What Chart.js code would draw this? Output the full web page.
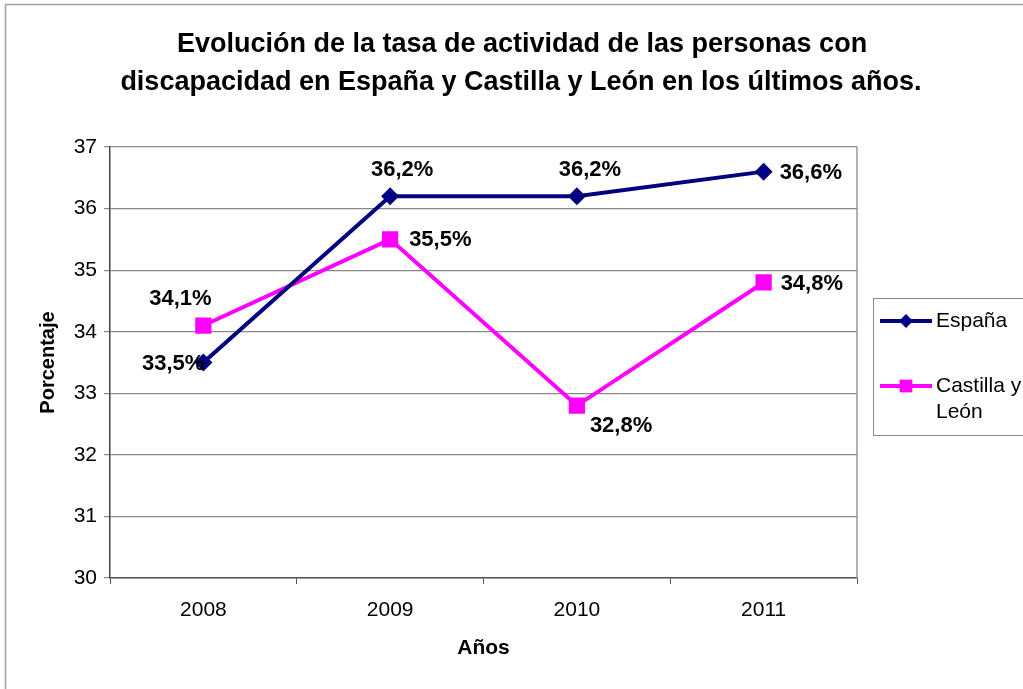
<!DOCTYPE html>
<html>
<head>
<meta charset="utf-8">
<script src="https://cdn.jsdelivr.net/npm/chart.js"></script>
<style>
  body { margin: 0; background: #fff; }
  #wrap { width: 1023px; height: 689px; position: relative; }
</style>
</head>
<body>
<div id="wrap"><canvas id="myChart" width="1023" height="689"></canvas></div>
<script>
const years = ['2008', '2009', '2010', '2011'];
const espana = [33.5, 36.2, 36.2, 36.6];
const castilla = [34.1, 35.5, 32.8, 34.8];
const titleLines = ['Evolución de la tasa de actividad de las personas con',
  'discapacidad en España y Castilla y León en los últimos años.'];

// where each value label sits relative to its point: [dx, dy, align]
const labelOffsets = [
  [[1, 1, 'right'], [12, -26, 'center'], [13, -26, 'center'], [16, 1, 'left']],
  [[-23, -27, 'center'], [19, 1, 'left'], [13, 20, 'left'], [17, 1, 'left']]
];

const FONT = '"Liberation Sans", Arial, sans-serif';

const framePlugin = {
  id: 'frame',
  beforeDraw(chart) {
    const ctx = chart.ctx;
    ctx.save();
    ctx.fillStyle = '#fff';
    ctx.fillRect(0, 0, chart.width, chart.height);
    ctx.strokeStyle = '#a0a0a0';
    ctx.lineWidth = 1.5;
    ctx.strokeRect(5.5, 4.5, chart.width + 20, chart.height + 20);
    ctx.fillStyle = '#000';
    ctx.font = 'bold 27px ' + FONT;
    ctx.textAlign = 'center';
    ctx.textBaseline = 'middle';
    ctx.fillText(titleLines[0], 522, 45);
    ctx.fillText(titleLines[1], 521, 83);
    ctx.restore();
  },
  afterDraw(chart) {
    const ctx = chart.ctx;
    const a = chart.chartArea;
    ctx.save();
    ctx.strokeStyle = '#999';
    ctx.lineWidth = 1.5;
    ctx.beginPath();
    ctx.moveTo(a.right, a.top);
    ctx.lineTo(a.right, a.bottom);
    ctx.stroke();

    // legend
    const lx = 873, ly = 298;
    ctx.strokeStyle = '#888';
    ctx.lineWidth = 1;
    ctx.fillStyle = '#fff';
    ctx.fillRect(lx + 0.5, ly + 0.5, 200, 137);
    ctx.strokeRect(lx + 0.5, ly + 0.5, 200, 137);
    const rows = [321, 386];
    chart.data.datasets.forEach((ds, i) => {
      const y = rows[i];
      ctx.strokeStyle = ds.borderColor;
      ctx.lineWidth = 4;
      ctx.beginPath();
      ctx.moveTo(880, y);
      ctx.lineTo(932, y);
      ctx.stroke();
      ctx.fillStyle = ds.backgroundColor;
      Chart.helpers.drawPoint(ctx, {
        pointStyle: ds.pointStyle, radius: i === 0 ? 7 : 9, rotation: 0, borderWidth: 0
      }, 906, y);
      ctx.fillStyle = '#000';
      ctx.font = '21px ' + FONT;
      ctx.textAlign = 'left';
      ctx.textBaseline = 'middle';
      const words = ds.label.split('\n');
      words.forEach((w, k) => ctx.fillText(w, 936, y + k * 26));
    });
    ctx.restore();
  },
  afterDatasetsDraw(chart) {
    const ctx = chart.ctx;
    ctx.save();
    ctx.fillStyle = '#000';
    ctx.font = 'bold 22px ' + FONT;
    ctx.textBaseline = 'middle';
    chart.data.datasets.forEach((ds, i) => {
      chart.getDatasetMeta(i).data.forEach((pt, j) => {
        const off = labelOffsets[i][j];
        ctx.textAlign = off[2];
        const txt = ds.data[j].toFixed(1).replace('.', ',') + '%';
        ctx.fillText(txt, pt.x + off[0], pt.y + off[1]);
      });
    });
    ctx.restore();
  }
};

const ctx = document.getElementById('myChart').getContext('2d');
window.myLine = new Chart(ctx, {
  type: 'line',
  data: {
    labels: years,
    datasets: [
      {
        label: 'España',
        data: espana,
        borderColor: '#000080',
        backgroundColor: '#000080',
        borderWidth: 4,
        pointStyle: 'rectRot',
        pointRadius: 9,
        pointBorderWidth: 0,
        tension: 0
      },
      {
        label: 'Castilla y\nLeón',
        data: castilla,
        borderColor: '#ff00ff',
        backgroundColor: '#ff00ff',
        borderWidth: 4,
        pointStyle: 'rect',
        pointRadius: 11.5,
        pointBorderWidth: 0,
        tension: 0
      }
    ]
  },
  options: {
    responsive: false,
    animation: false,
    layout: { padding: { left: 32, top: 147, right: 166, bottom: 24 } },
    plugins: {
      legend: { display: false },
      title: { display: false },
      tooltip: { enabled: false }
    },
    scales: {
      x: {
        offset: true,
        afterFit(scale) { scale.height = 87; },
        grid: { offset: true, drawOnChartArea: false, drawTicks: true, tickLength: 6, color: '#555' },
        border: { color: '#555', width: 1.5 },
        ticks: { color: '#000', font: { family: FONT, size: 21 }, padding: 14 },
        title: { display: true, text: 'Años', color: '#000', font: { family: FONT, size: 21, weight: 'bold' } }
      },
      y: {
        min: 30,
        max: 37,
        afterFit(scale) { scale.width = 78; },
        grid: { color: '#888', tickLength: 6, lineWidth: 1.2 },
        border: { color: '#444', width: 1.5 },
        ticks: { stepSize: 1, color: '#000', font: { family: FONT, size: 21 }, padding: 7 },
        title: { display: true, text: 'Porcentaje', color: '#000', font: { family: FONT, size: 20, weight: 'bold' } }
      }
    }
  },
  plugins: [framePlugin]
});
</script>
</body>
</html>
